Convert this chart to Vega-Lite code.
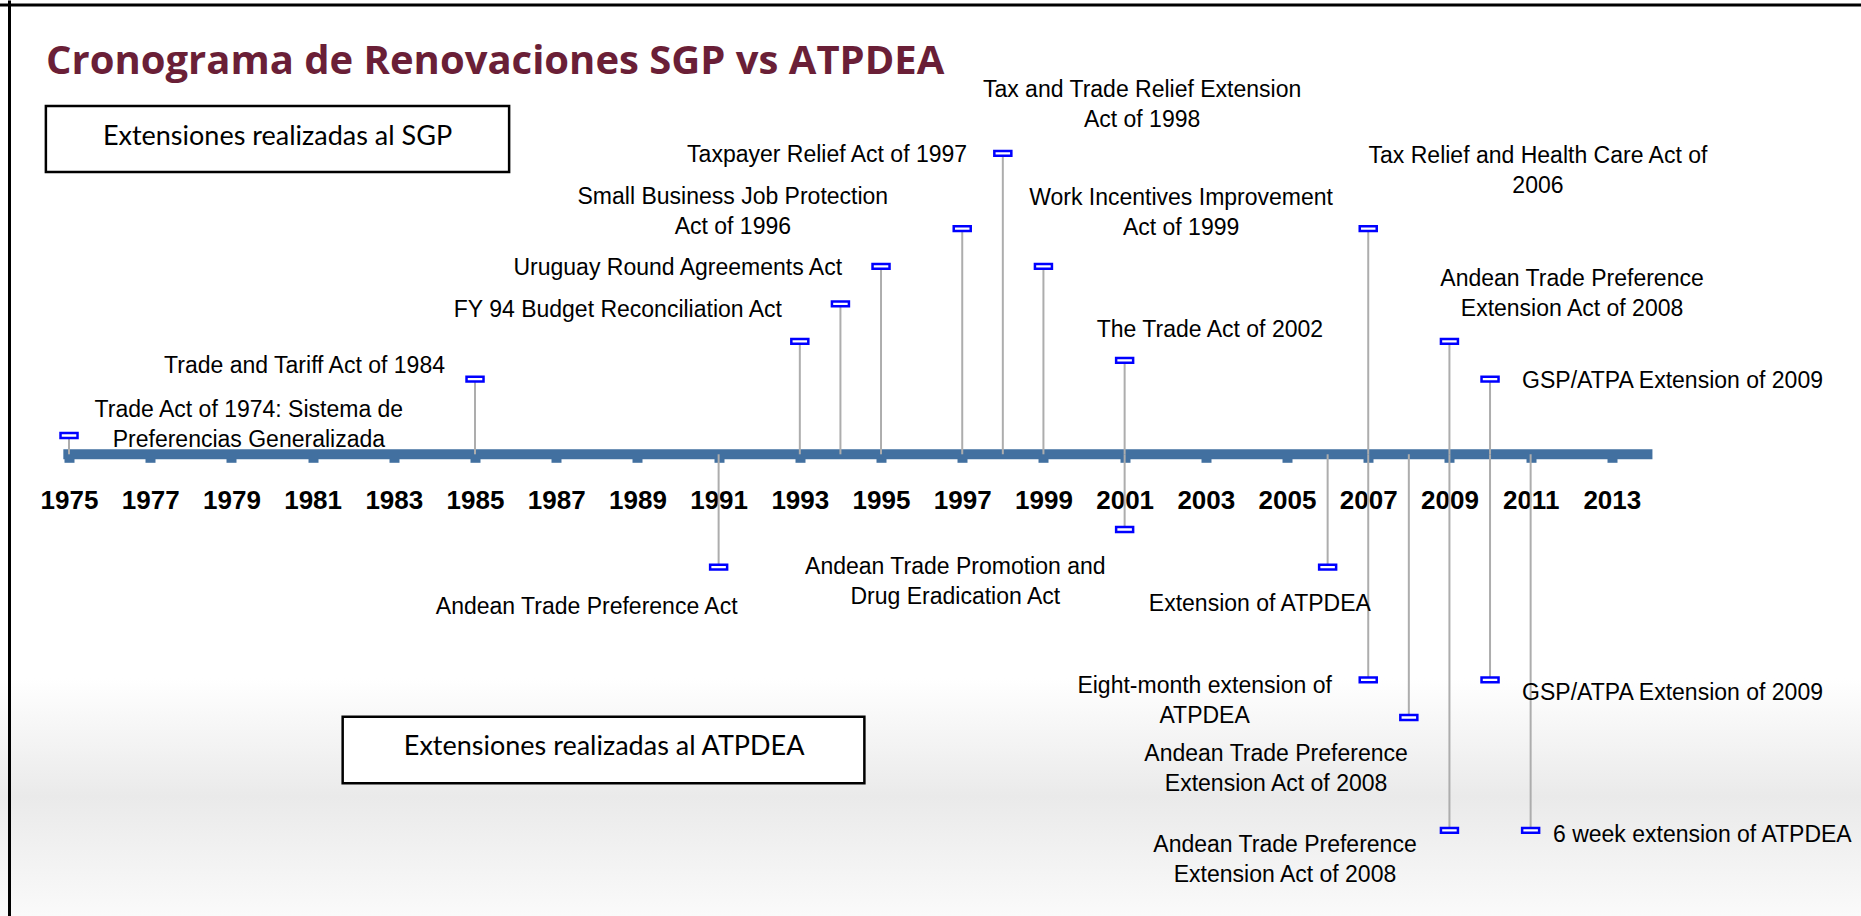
{
  "$schema": "https://vega.github.io/schema/vega-lite/v6.json",
  "autosize": "none",
  "padding": 0,
  "width": 1861,
  "height": 916,
  "background": "white",
  "view": {
    "stroke": null,
    "fill": {
      "gradient": "linear", "x1": 0, "y1": 0, "x2": 0, "y2": 1,
      "stops": [
        {"offset": 0, "color": "#ffffff"},
        {"offset": 0.74, "color": "#ffffff"},
        {"offset": 0.87, "color": "#eaeaea"},
        {"offset": 1, "color": "#fafafa"}
      ]
    }
  },
  "title": {
    "text": "Cronograma de Renovaciones SGP vs ATPDEA",
    "anchor": "start",
    "frame": "group",
    "orient": "top",
    "offset": 0,
    "baseline": "alphabetic",
    "dx": 46,
    "dy": 114,
    "font": "Open Sans",
    "fontSize": 40,
    "fontWeight": "bold",
    "color": "#6A1F37"
  },
  "datasets": {
    "events": [
      {"year": 1975, "level": 0.5},
      {"year": 1985, "level": 2},
      {"year": 1993, "level": 3},
      {"year": 1994, "level": 4},
      {"year": 1995, "level": 5},
      {"year": 1997, "level": 6},
      {"year": 1998, "level": 8},
      {"year": 1999, "level": 5},
      {"year": 2001, "level": 2.5},
      {"year": 2007, "level": 6},
      {"year": 2009, "level": 3},
      {"year": 2010, "level": 2},
      {"year": 1991, "level": -3},
      {"year": 2001, "level": -2},
      {"year": 2006, "level": -3},
      {"year": 2007, "level": -6},
      {"year": 2008, "level": -7},
      {"year": 2009, "level": -10},
      {"year": 2010, "level": -6},
      {"year": 2011, "level": -10}
    ],
    "labels": [
      {"text": "Trade Act of 1974: Sistema de\nPreferencias Generalizada", "lx": 1979.43, "ly": 1.0, "align": "center"},
      {"text": "Trade and Tariff Act of 1984", "lx": 1984.26, "ly": 2.17, "align": "right"},
      {"text": "FY 94 Budget Reconciliation Act", "lx": 1992.56, "ly": 3.66, "align": "right"},
      {"text": "Uruguay Round Agreements Act", "lx": 1994.04, "ly": 4.77, "align": "right"},
      {"text": "Small Business Job Protection\nAct of 1996", "lx": 1991.35, "ly": 6.66, "align": "center"},
      {"text": "Taxpayer Relief Act of 1997", "lx": 1997.12, "ly": 7.78, "align": "right"},
      {"text": "Tax and Trade Relief Extension\nAct of 1998", "lx": 2001.43, "ly": 9.51, "align": "center"},
      {"text": "Work Incentives Improvement\nAct of 1999", "lx": 2002.39, "ly": 6.63, "align": "center"},
      {"text": "The Trade Act of 2002", "lx": 2003.10, "ly": 3.13, "align": "center"},
      {"text": "Tax Relief and Health Care Act of\n2006", "lx": 2011.18, "ly": 7.74, "align": "center"},
      {"text": "Andean Trade Preference\nExtension Act of 2008", "lx": 2012.02, "ly": 4.48, "align": "center"},
      {"text": "GSP/ATPA Extension of 2009", "lx": 2010.79, "ly": 1.755, "align": "left"},
      {"text": "Andean Trade Preference Act", "lx": 1987.75, "ly": -4.247, "align": "center"},
      {"text": "Andean Trade Promotion and\nDrug Eradication Act", "lx": 1996.83, "ly": -3.18, "align": "center"},
      {"text": "Extension of ATPDEA", "lx": 2004.33, "ly": -4.16, "align": "center"},
      {"text": "Eight-month extension of\nATPDEA", "lx": 2002.97, "ly": -6.36, "align": "center"},
      {"text": "Andean Trade Preference\nExtension Act of 2008", "lx": 2004.73, "ly": -8.15, "align": "center"},
      {"text": "Andean Trade Preference\nExtension Act of 2008", "lx": 2004.95, "ly": -10.57, "align": "center"},
      {"text": "GSP/ATPA Extension of 2009", "lx": 2010.79, "ly": -6.53, "align": "left"},
      {"text": "6 week extension of ATPDEA", "lx": 2011.55, "ly": -10.30, "align": "left"}
    ],
    "boxes": [
      {"label": "Extensiones realizadas al SGP", "x1": 1974.43, "x2": 1985.84, "y1": 9.263, "y2": 7.508, "tx": 1980.135, "ty": 8.226},
      {"label": "Extensiones realizadas al ATPDEA", "x1": 1981.74, "x2": 1994.59, "y1": -6.979, "y2": -8.75, "tx": 1988.18, "ty": -7.997}
    ],
    "bar": [
      {"start": 1974.86, "end": 2014, "pos": 0}
    ]
  },
  "layer": [
    {
      "data": {"name": "boxes"},
      "mark": {"type": "rect", "fill": "white", "stroke": "black", "strokeWidth": 2.5},
      "encoding": {
        "x": {"field": "x1", "type": "quantitative", "scale": {"domain": [1973.30, 2019.137], "nice": false, "zero": false},
          "axis": {
            "orient": "bottom", "offset": -461.7,
            "values": [1975, 1977, 1979, 1981, 1983, 1985, 1987, 1989, 1991, 1993, 1995, 1997, 1999, 2001, 2003, 2005, 2007, 2009, 2011, 2013],
            "format": "d", "domain": false, "grid": false, "title": null,
            "ticks": true, "tickSize": 8, "tickWidth": 10, "tickColor": "#4270A0",
            "labelFont": "Liberation Sans", "labelFontSize": 26, "labelFontWeight": "bold", "labelColor": "black",
            "labelPadding": 46, "labelBaseline": "alphabetic", "labelFlush": false, "labelOverlap": false
          }
        },
        "x2": {"field": "x2"},
        "y": {"field": "y1", "type": "quantitative", "scale": {"domain": [-12.279, 12.082], "nice": false, "zero": false},
          "axis": {
            "orient": "left", "offset": -9,
            "domain": true, "domainColor": "black", "domainWidth": 3,
            "ticks": false, "labels": false, "title": null,
            "grid": false
          }
        },
        "y2": {"field": "y2"}
      }
    },
    {
      "data": {"name": "bar"},
      "mark": {"type": "rule", "color": "black", "strokeWidth": 3},
      "encoding": {
        "y": {"datum": 11.95, "type": "quantitative"}
      }
    },
    {
      "data": {"name": "boxes"},
      "mark": {"type": "text", "align": "center", "baseline": "alphabetic", "font": "Lato", "fontSize": 27, "color": "black"},
      "encoding": {
        "x": {"field": "tx", "type": "quantitative"},
        "y": {"field": "ty", "type": "quantitative"},
        "text": {"field": "label"}
      }
    },
    {
      "data": {"name": "bar"},
      "mark": {"type": "rule", "strokeWidth": 10, "color": "#4270A0", "strokeCap": "butt"},
      "encoding": {
        "x": {"field": "start", "type": "quantitative"},
        "x2": {"field": "end"},
        "y": {"field": "pos", "type": "quantitative"}
      }
    },
    {
      "data": {"name": "events"},
      "mark": {"type": "rule", "strokeWidth": 2, "color": "#ADADAD"},
      "encoding": {
        "x": {"field": "year", "type": "quantitative"},
        "y": {"field": "level", "type": "quantitative"},
        "y2": {"datum": 0}
      }
    },
    {
      "data": {"name": "events"},
      "mark": {"type": "point", "shape": "M-1,-0.28L1,-0.28L1,0.28L-1,0.28Z", "size": 289, "filled": true, "fill": "white", "stroke": "#0000FF", "strokeWidth": 2.5, "opacity": 1},
      "encoding": {
        "x": {"field": "year", "type": "quantitative"},
        "y": {"field": "level", "type": "quantitative"}
      }
    },
    {
      "data": {"name": "labels"},
      "transform": [{"filter": "datum.align === 'center'"}],
      "mark": {"type": "text", "align": "center", "baseline": "alphabetic", "font": "Liberation Sans", "fontSize": 23, "lineBreak": "\n", "lineHeight": 30, "color": "black"},
      "encoding": {
        "x": {"field": "lx", "type": "quantitative"},
        "y": {"field": "ly", "type": "quantitative"},
        "text": {"field": "text"}
      }
    },
    {
      "data": {"name": "labels"},
      "transform": [{"filter": "datum.align === 'right'"}],
      "mark": {"type": "text", "align": "right", "baseline": "alphabetic", "font": "Liberation Sans", "fontSize": 23, "lineBreak": "\n", "lineHeight": 30, "color": "black"},
      "encoding": {
        "x": {"field": "lx", "type": "quantitative"},
        "y": {"field": "ly", "type": "quantitative"},
        "text": {"field": "text"}
      }
    },
    {
      "data": {"name": "labels"},
      "transform": [{"filter": "datum.align === 'left'"}],
      "mark": {"type": "text", "align": "left", "baseline": "alphabetic", "font": "Liberation Sans", "fontSize": 23, "lineBreak": "\n", "lineHeight": 30, "color": "black"},
      "encoding": {
        "x": {"field": "lx", "type": "quantitative"},
        "y": {"field": "ly", "type": "quantitative"},
        "text": {"field": "text"}
      }
    }
  ]
}
